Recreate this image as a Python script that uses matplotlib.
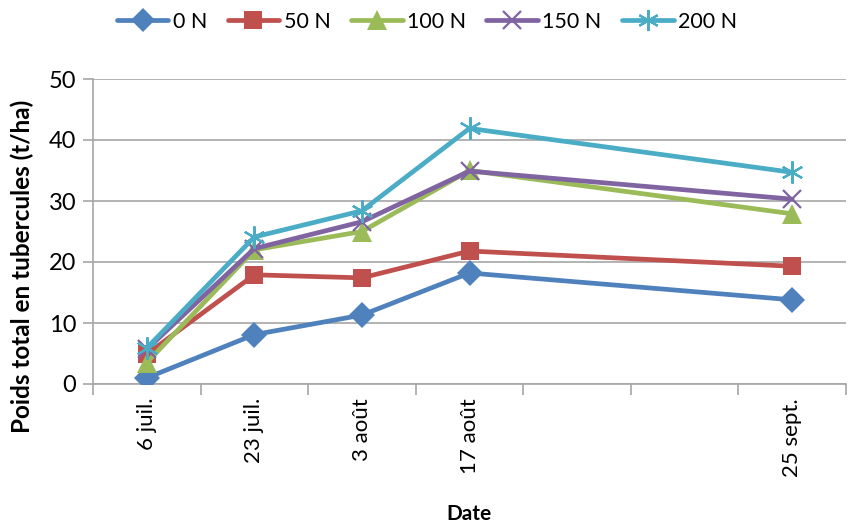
import matplotlib
matplotlib.use("Agg")
import matplotlib.pyplot as plt
from matplotlib.ticker import FixedLocator, MultipleLocator

# Sampling dates (positions on the date axis) and their labels
dates = ["6 juil.", "23 juil.", "3 août", "17 août", "25 sept."]
positions = [0, 1, 2, 3, 6]

# Total tuber weight (t/ha) per nitrogen rate
n0 = [1.0, 8.1, 11.3, 18.2, 13.8]
n50 = [4.9, 17.9, 17.4, 21.8, 19.3]
n100 = [3.5, 22.0, 25.0, 35.0, 27.9]
n150 = [5.7, 22.2, 26.6, 34.9, 30.3]
n200 = [5.9, 24.1, 28.4, 41.9, 34.7]

series = [
    ("0 N", n0, "#4F81BD", "D", 13),
    ("50 N", n50, "#C0504D", "s", 13),
    ("100 N", n100, "#9BBB59", "^", 15),
    ("150 N", n150, "#8064A2", "x", 13),
    ("200 N", n200, "#4BACC6", (6, 2, 0), 16),
]

plt.rcParams["font.family"] = ["Lato", "DejaVu Sans"]

fig = plt.figure(figsize=(8.48, 5.24), dpi=100)
ax = fig.add_axes([93 / 848, 140 / 524, 753 / 848, 305 / 524])

for name, vals, color, marker, ms in series:
    thin = marker == "x" or isinstance(marker, tuple)
    ax.plot(positions, vals, color=color, lw=3.4, marker=marker, ms=ms,
            mew=1.6 if thin else 0, mec=color, mfc=color, label=name,
            solid_capstyle="round", solid_joinstyle="round", zorder=3)

ax.set_xlim(-0.5, 6.5)
ax.set_ylim(0, 50)
ax.yaxis.set_major_locator(MultipleLocator(10))
ax.grid(axis="y", color="#A6A6A6", lw=1.2)
ax.set_axisbelow(True)

ax.set_xticks(positions)
ax.set_xticklabels(dates, rotation=90, fontsize=16)
ax.xaxis.set_minor_locator(FixedLocator([i - 0.5 for i in range(8)]))
ax.tick_params(axis="x", which="major", length=0, pad=10)
ax.tick_params(axis="x", which="minor", length=8, width=1.2, color="#A6A6A6", direction="out")
ax.tick_params(axis="y", length=7, width=1.2, color="#A6A6A6", labelsize=17, pad=5)

for side in ("top", "right"):
    ax.spines[side].set_visible(False)
for side in ("left", "bottom"):
    ax.spines[side].set_color("#A6A6A6")
    ax.spines[side].set_linewidth(1.2)

ax.set_xlabel("Date", fontsize=15, fontweight="bold", labelpad=20)
ax.set_ylabel("Poids total en tubercules (t/ha)", fontsize=17.5, fontweight="bold")
ax.yaxis.set_label_coords(-59 / 753, 0.385)

fig.legend(loc="center", bbox_to_anchor=(427 / 848, 1 - 22 / 524), ncol=5, frameon=False,
           fontsize=15.5, handlelength=2.4, columnspacing=0.95, handletextpad=0.2,
           markerscale=0.95)

fig.savefig("out.png", dpi=100)
